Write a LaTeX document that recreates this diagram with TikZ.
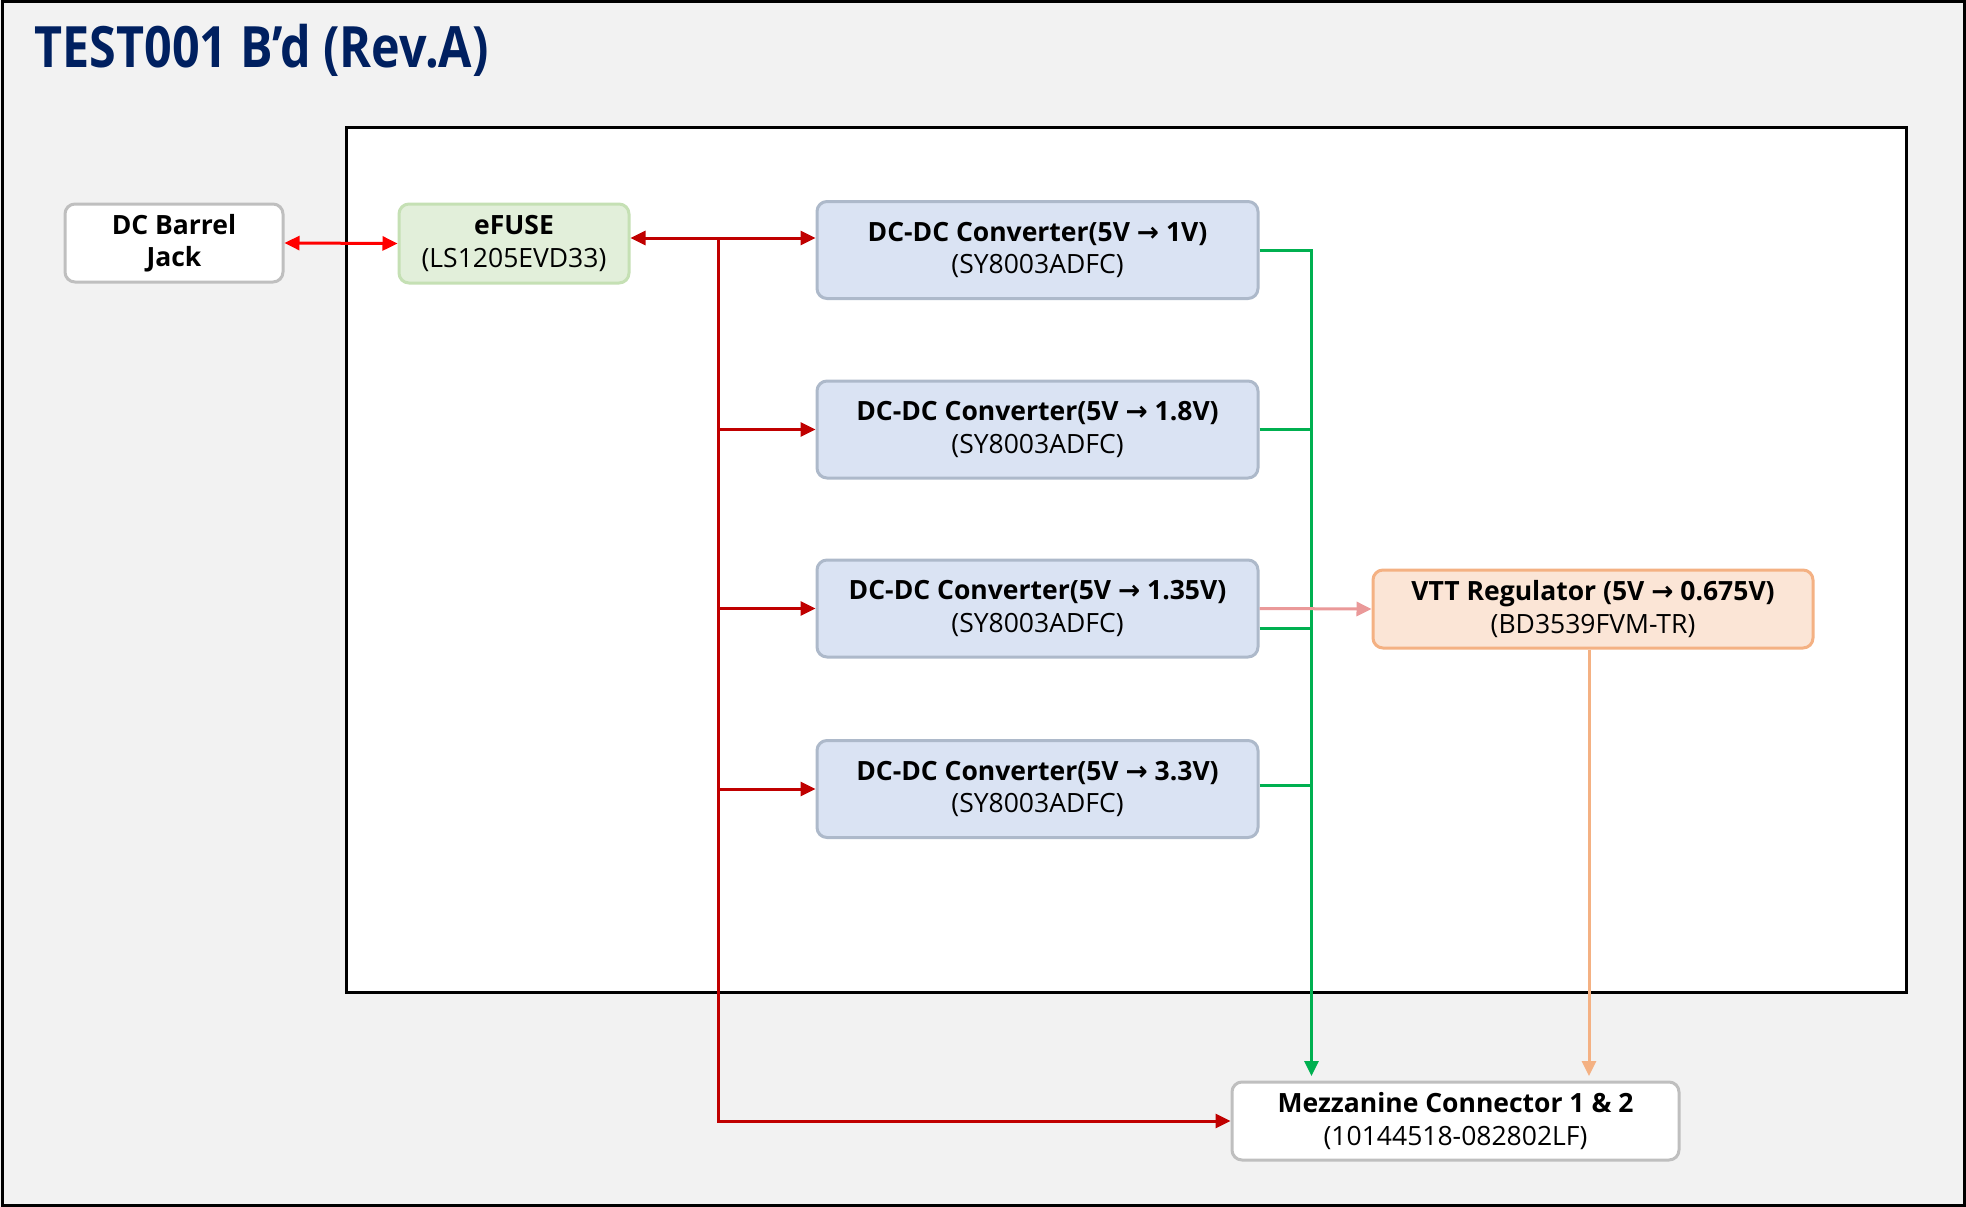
\documentclass[tikz,border=0pt]{standalone}
\usepackage{fontspec}
\setmainfont{Open Sans}
\newfontfamily\titlefont[FakeStretch=0.85]{Open Sans}
\newfontfamily\symfont{DejaVu Sans}
\newcommand{\rarr}{{\symfont →}}
\usetikzlibrary{arrows.meta}
\definecolor{bgc}{HTML}{F2F2F2}
\definecolor{titleblue}{HTML}{002060}
\definecolor{greyb}{HTML}{BFBFBF}
\definecolor{bluefill}{HTML}{DAE3F3}
\definecolor{blueb}{HTML}{ADB9CA}
\definecolor{greenfill}{HTML}{E2EFDA}
\definecolor{greenb}{HTML}{C5E0B4}
\definecolor{orfill}{HTML}{FBE5D6}
\definecolor{orb}{HTML}{F4B183}
\definecolor{brightred}{HTML}{FF0000}
\definecolor{darkred}{HTML}{C00000}
\definecolor{wiregreen}{HTML}{00B050}
\definecolor{pinkw}{HTML}{EA9999}
\begin{document}
\begin{tikzpicture}[x=1pt,y=-1pt,
  box/.style={rectangle, rounded corners=10pt, line width=3pt, align=center, inner sep=0pt,
    font=\fontsize{26.5}{32.5}\selectfont},
  conv/.style={box, fill=bluefill, draw=blueb, minimum width=441pt, minimum height=97pt},
  wire/.style={line width=3pt},
  tip/.style={-{Triangle[length=15pt,width=14pt]}},
  bitip/.style={{Triangle[length=15pt,width=14pt]}-{Triangle[length=15pt,width=14pt]}}]
\fill[bgc] (0,0) rectangle (1966,1207);
\useasboundingbox (0,0) rectangle (1966,1207);
\draw[line width=3pt] (2,2) rectangle (1964,1205);
\draw[line width=3pt, fill=white] (346,127) rectangle (1906,992);

\node[anchor=west, text=titleblue, font=\titlefont\bfseries\fontsize{57}{64}\selectfont] (title) at (31,50) {TEST001 B’d (Rev.A)};

\node[box, fill=white, draw=greyb, minimum width=218pt, minimum height=78pt] (jack) at (174,243) {\textbf{DC Barrel}\\\textbf{Jack}};
\node[box, fill=greenfill, draw=greenb, minimum width=230pt, minimum height=79pt] (efuse) at (514,243.5) {\textbf{eFUSE}\\(LS1205EVD33)};
\node[conv] (dc1) at (1037.5,250) {\textbf{DC-DC Converter(5V \rarr{} 1V)}\\(SY8003ADFC)};
\node[conv] (dc2) at (1037.5,429.5) {\textbf{DC-DC Converter(5V \rarr{} 1.8V)}\\(SY8003ADFC)};
\node[conv] (dc3) at (1037.5,608.5) {\textbf{DC-DC Converter(5V \rarr{} 1.35V)}\\(SY8003ADFC)};
\node[conv] (dc4) at (1037.5,789) {\textbf{DC-DC Converter(5V \rarr{} 3.3V)}\\(SY8003ADFC)};
\node[box, fill=orfill, draw=orb, minimum width=440pt, minimum height=78pt] (vtt) at (1593,609) {\textbf{VTT Regulator (5V \rarr{} 0.675V)}\\(BD3539FVM-TR)};
\node[box, fill=white, draw=greyb, minimum width=447pt, minimum height=78pt] (mezz) at (1455.5,1121) {\textbf{Mezzanine Connector 1 \& 2}\\(10144518-082802LF)};

% red power
\draw[wire, brightred, bitip] (jack.east) -- (efuse.west);
\draw[wire, darkred, bitip] (efuse.east |- 0,238) -- (dc1.west |- 0,238);
\coordinate (bus) at (718,238);
\draw[wire, darkred, tip] (bus) |- (mezz.west);
\draw[wire, darkred, tip] (bus |- dc2.west) -- (dc2.west);
\draw[wire, darkred, tip] (bus |- dc3.west) -- (dc3.west);
\draw[wire, darkred, tip] (bus |- dc4.west) -- (dc4.west);

% green outputs
\coordinate (gbus) at (1311.5,250);
\draw[wire, wiregreen, tip] (dc1.east) -- (gbus) -- (gbus |- 0,1076);
\draw[wire, wiregreen] (dc2.east) -- (gbus |- dc2.east);
\draw[wire, wiregreen] (dc3.east |- 0,628) -- (gbus |- 0,628);
\draw[wire, wiregreen] (dc4.east |- 0,785) -- (gbus |- 0,785);

% VTT
\draw[wire, pinkw, tip] (dc3.east) -- (vtt.west);
\draw[wire, orb, tip] (vtt.south -| 1589,0) -- (1589,1076);
\end{tikzpicture}
\end{document}
